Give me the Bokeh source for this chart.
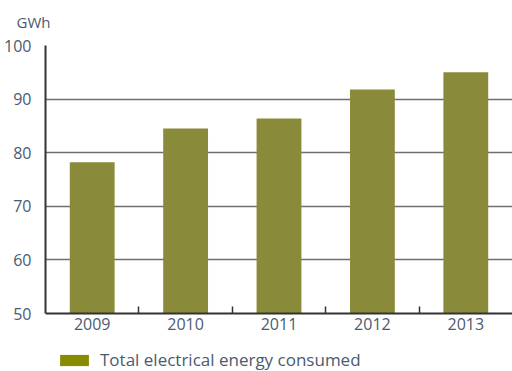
from bokeh.plotting import figure
from bokeh.models import FixedTicker, Legend, LegendItem, ColumnDataSource, Title
from bokeh.embed import file_html
from bokeh.resources import INLINE

years = ["2009", "2010", "2011", "2012", "2013"]
values = [78.2, 84.5, 86.4, 91.8, 95.0]
y_ticks = [50, 60, 70, 80, 90, 100]
unit = "GWh"
series_name = "Total electrical energy consumed"

FONT = "Open Sans"
TXT = "#4b5a70"

# frame runs to the bottom of the canvas; the value axis spans 50..100 over 268 px
FRAME_H = 371 - 45
Y_BOTTOM = 100 - 50 * FRAME_H / 268

xs = [i + 0.5 for i in range(len(years))]
src = ColumnDataSource(dict(x=xs, top=values))

p = figure(width=512, height=371, output_backend="svg", toolbar_location=None,
           x_range=(0, len(years)), y_range=(Y_BOTTOM, 100),
           min_border_left=45, min_border_right=0, min_border_top=45,
           min_border_bottom=0)
p.outline_line_color = None
p.background_fill_color = "white"

p.title.text = unit
p.title.align = "left"
p.title.offset = -29
p.title.text_font = FONT
p.title.text_font_size = "15px"
p.title.text_font_style = "normal"
p.title.text_color = TXT
p.add_layout(Title(text=" ", text_font_size="7px", standoff=0), "above")

bars = p.vbar(x="x", top="top", width=0.48, bottom=y_ticks[0], source=src,
              fill_color="#8a8b3a", line_color=None)
swatch = p.vbar(x=[-10], top=[0], width=0.1, fill_color="#878b00", line_color=None)

p.xaxis.fixed_location = y_ticks[0]
p.xaxis.ticker = FixedTicker(ticks=xs, minor_ticks=list(range(1, len(years))))
p.xaxis.major_label_overrides = {x: y for x, y in zip(xs, years)}
p.xaxis.major_tick_line_color = None
p.xaxis.major_tick_in = 0
p.xaxis.major_tick_out = 0
p.xaxis.minor_tick_in = 7
p.xaxis.minor_tick_out = 0
p.xaxis.minor_tick_line_color = "#333333"
p.xaxis.minor_tick_line_width = 1.5
p.xaxis.axis_line_color = "#333333"
p.xaxis.axis_line_width = 2
p.xaxis.major_label_text_font = FONT
p.xaxis.major_label_text_font_size = "16px"
p.xaxis.major_label_text_color = TXT
p.xaxis.major_label_standoff = 4

p.yaxis.ticker = FixedTicker(ticks=y_ticks)
p.yaxis.bounds = (y_ticks[0], y_ticks[-1])
p.yaxis.major_tick_line_color = None
p.yaxis.minor_tick_line_color = None
p.yaxis.axis_line_color = "#333333"
p.yaxis.axis_line_width = 2
p.yaxis.major_label_text_font = FONT
p.yaxis.major_label_text_font_size = "16px"
p.yaxis.major_label_text_color = TXT
p.yaxis.major_label_standoff = 8

p.xgrid.grid_line_color = None
p.ygrid.ticker = FixedTicker(ticks=y_ticks[1:])
p.ygrid.grid_line_color = "#6f6f6f"
p.ygrid.grid_line_width = 1.5

legend = Legend(items=[LegendItem(label=series_name, renderers=[swatch])],
                orientation="horizontal", location=(11, 0),
                label_text_font=FONT, label_text_font_size="17px",
                label_text_color=TXT, glyph_width=36, glyph_height=14,
                label_height=14,
                border_line_color=None, background_fill_alpha=0,
                padding=0, margin=0, label_standoff=8)
p.add_layout(legend, "center")

open("out.html", "w").write(file_html(p, INLINE))
